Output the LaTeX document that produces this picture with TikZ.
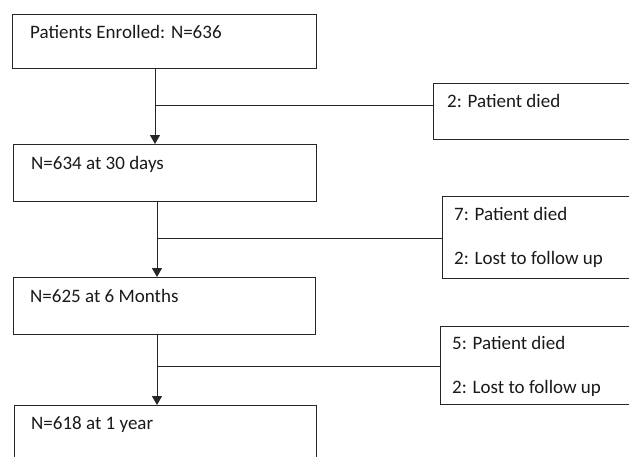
\documentclass[tikz,border=0pt]{standalone}
\usepackage{fontspec}
\setmainfont{Carlito}
\usetikzlibrary{arrows.meta}
\tikzset{
  box/.style={draw=black!85, line width=0.9pt, rectangle, inner sep=0pt, anchor=north west},
  lbl/.style={anchor=base west, inner sep=0pt, font=\fontsize{19}{22}\selectfont, text=black!90},
  conn/.style={draw=black!85, line width=0.9pt},
  arr/.style={conn, -{Triangle[width=10pt,length=9pt]}}
}
\begin{document}
\begin{tikzpicture}[x=1pt,y=-1pt]
\useasboundingbox (0,0) rectangle (629,456);
\clip (0,0) rectangle (629,456);
% main boxes
\node[box, minimum width=304pt, minimum height=54pt] (b1) at (12,14) {};
\node[box, minimum width=303pt, minimum height=57pt] (b2) at (13,144) {};
\node[box, minimum width=302pt, minimum height=57pt] (b3) at (13,277) {};
\node[box, minimum width=302pt, minimum height=70pt] (b4) at (14,405) {};
% side boxes
\node[box, minimum width=230pt, minimum height=56pt] (r1) at (433,83) {};
\node[box, minimum width=220pt, minimum height=82pt] (r2) at (442,196) {};
\node[box, minimum width=220pt, minimum height=78pt] (r3) at (440,326) {};
% labels
\node[lbl] (t1) at (30,38.5) {Patients Enrolled: N=636};
\node[lbl] (t2) at (31,169.5) {N=634 at 30 days};
\node[lbl] (t3) at (30,302.5) {N=625 at 6 Months};
\node[lbl] (t4) at (31,429.5) {N=618 at 1 year};
\node[lbl] (s1) at (447,107.5) {2: Patient died};
\node[lbl] (s2a) at (454,220.5) {7: Patient died};
\node[lbl] (s2b) at (454,264.5) {2: Lost to follow up};
\node[lbl] (s3a) at (452,349.5) {5: Patient died};
\node[lbl] (s3b) at (452,393.5) {2: Lost to follow up};
% connectors
\coordinate (j1) at (155,105);
\coordinate (j2) at (157,238);
\coordinate (j3) at (157,366);
\draw[arr] (b1.south -| j1) -- (b2.north -| j1);
\draw[arr] (b2.south -| j2) -- (b3.north -| j2);
\draw[arr] (b3.south -| j3) -- (b4.north -| j3);
\draw[conn] (j1) -- (j1 -| r1.west);
\draw[conn] (j2) -- (j2 -| r2.west);
\draw[conn] (j3) -- (j3 -| r3.west);
\end{tikzpicture}
\end{document}
